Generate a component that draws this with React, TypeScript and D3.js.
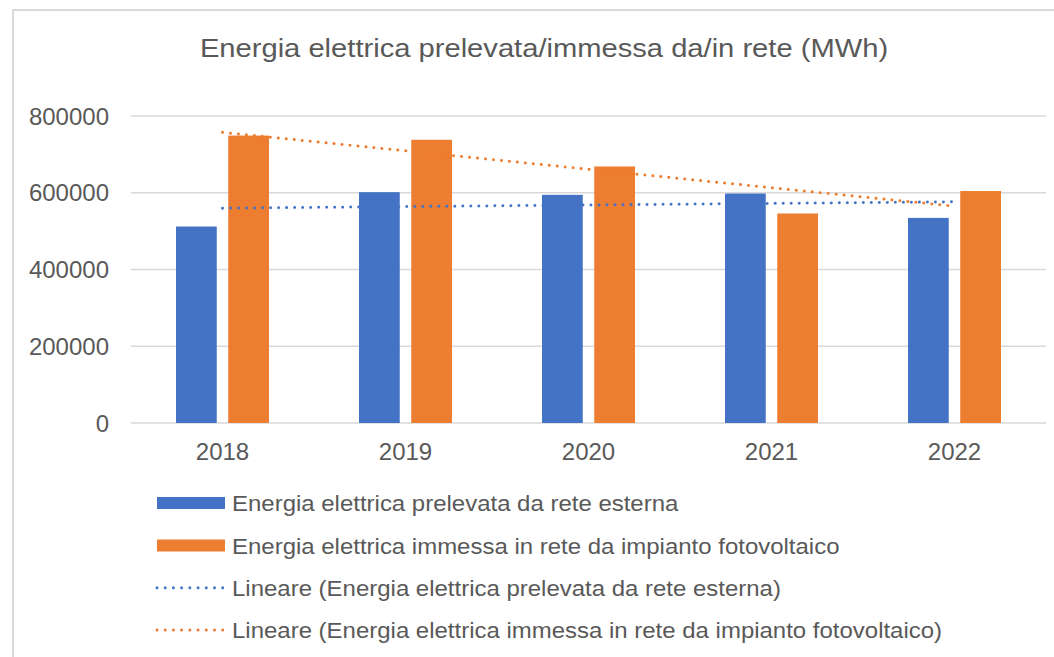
import * as d3 from "d3";
import { useEffect, useRef } from "react";

const years = ["2018", "2019", "2020", "2021", "2022"];
const prelevata = [512000, 601500, 594500, 598000, 534500];
const immessa = [749000, 738000, 668500, 546000, 604500];
const yTicks = [0, 200000, 400000, 600000, 800000];

const seriesNames = [
  "Energia elettrica prelevata da rete esterna",
  "Energia elettrica immessa in rete da impianto fotovoltaico",
];
const trendNames = [
  "Lineare (Energia elettrica prelevata da rete esterna)",
  "Lineare (Energia elettrica immessa in rete da impianto fotovoltaico)",
];
const colors = ["#4472C4", "#ED7D31"];

// least squares line over the category index
function linearFit(values: number[]) {
  const n = values.length;
  const xm = (n - 1) / 2;
  const ym = d3.mean(values) as number;
  let num = 0;
  let den = 0;
  values.forEach((v, i) => {
    num += (i - xm) * (v - ym);
    den += (i - xm) * (i - xm);
  });
  const slope = num / den;
  return [ym - slope * xm, ym + slope * (n - 1 - xm)];
}

export default function App() {
  const svgRef = useRef<SVGSVGElement>(null);

  useEffect(() => {
    if (!svgRef.current) return;
    d3.select(svgRef.current).selectAll("*").remove();

    const svg = d3.select(svgRef.current);
    const font = "'Liberation Sans', Arial, sans-serif";
    const textColor = "#595959";

    const left = 131;
    const right = 1046;
    const top = 116;
    const bottom = 423;

    // chart frame (only top and left edges are visible in the crop)
    svg
      .append("path")
      .attr("d", "M13,657 L13,10 L1054,10")
      .attr("fill", "none")
      .attr("stroke", "#d9d9d9")
      .attr("stroke-width", 2);

    // title, slightly wide like the source rendering
    svg
      .append("text")
      .attr("transform", "translate(544,57) scale(1.1,1)")
      .attr("text-anchor", "middle")
      .attr("font-family", font)
      .attr("font-size", 26.5)
      .attr("fill", textColor)
      .text("Energia elettrica prelevata/immessa da/in rete (MWh)");

    const x0 = d3.scaleBand<string>().domain(years).range([left, right]);
    const x1 = d3
      .scaleBand<number>()
      .domain([0, 1])
      .range([45, 138])
      .paddingInner(0.22);
    const y = d3.scaleLinear().domain([0, 800000]).range([bottom, top]);

    // gridlines
    svg
      .append("g")
      .selectAll("line")
      .data(yTicks)
      .enter()
      .append("line")
      .attr("x1", left)
      .attr("x2", right)
      .attr("y1", (d) => y(d))
      .attr("y2", (d) => y(d))
      .attr("stroke", "#d9d9d9")
      .attr("stroke-width", 1.5);

    // y tick labels
    svg
      .append("g")
      .selectAll("text")
      .data(yTicks)
      .enter()
      .append("text")
      .attr("x", 109)
      .attr("y", (d) => y(d) + 8.5)
      .attr("text-anchor", "end")
      .attr("font-family", font)
      .attr("font-size", 24)
      .attr("fill", textColor)
      .text((d) => String(d));

    // x labels
    svg
      .append("g")
      .selectAll("text")
      .data(years)
      .enter()
      .append("text")
      .attr("x", (d) => (x0(d) as number) + x0.bandwidth() / 2)
      .attr("y", 460)
      .attr("text-anchor", "middle")
      .attr("font-family", font)
      .attr("font-size", 24)
      .attr("fill", textColor)
      .text((d) => d);

    // bars
    const series = [prelevata, immessa];
    series.forEach((vals, si) => {
      svg
        .append("g")
        .selectAll("rect")
        .data(vals)
        .enter()
        .append("rect")
        .attr("x", (_, i) => (x0(years[i]) as number) + (x1(si) as number))
        .attr("y", (d) => y(d))
        .attr("width", x1.bandwidth())
        .attr("height", (d) => y(0) - y(d))
        .attr("fill", colors[si]);
    });

    // linear trendlines
    const cx = (i: number) => (x0(years[i]) as number) + x0.bandwidth() / 2;
    series.forEach((vals, si) => {
      const [a, b] = linearFit(vals);
      svg
        .append("line")
        .attr("x1", cx(0))
        .attr("x2", cx(vals.length - 1))
        .attr("y1", y(a))
        .attr("y2", y(b))
        .attr("stroke", colors[si])
        .attr("stroke-width", 3)
        .attr("stroke-linecap", "round")
        .attr("stroke-dasharray", "0.01 8");
    });

    // legend
    const legendRows = [503, 545.5, 587.7, 630];
    const legend = svg.append("g");
    [0, 1].forEach((i) => {
      legend
        .append("rect")
        .attr("x", 157)
        .attr("y", legendRows[i] - 6)
        .attr("width", 68)
        .attr("height", 12)
        .attr("fill", colors[i]);
    });
    [0, 1].forEach((i) => {
      legend
        .append("line")
        .attr("x1", 157)
        .attr("x2", 223)
        .attr("y1", legendRows[i + 2])
        .attr("y2", legendRows[i + 2])
        .attr("stroke", colors[i])
        .attr("stroke-width", 3)
        .attr("stroke-linecap", "round")
        .attr("stroke-dasharray", "0.01 8.2");
    });
    [...seriesNames, ...trendNames].forEach((name, i) => {
      legend
        .append("text")
        .attr("transform", `translate(232,${legendRows[i] + 8}) scale(1.09,1)`)
        .attr("font-family", font)
        .attr("font-size", 22)
        .attr("fill", textColor)
        .text(name);
    });
  }, []);

  return (
    <div style={{ position: "absolute", left: 0, top: 0 }}>
      <svg
        ref={svgRef}
        width="1054"
        height="657"
        style={{ display: "block", background: "#fff" }}
      />
    </div>
  );
}
